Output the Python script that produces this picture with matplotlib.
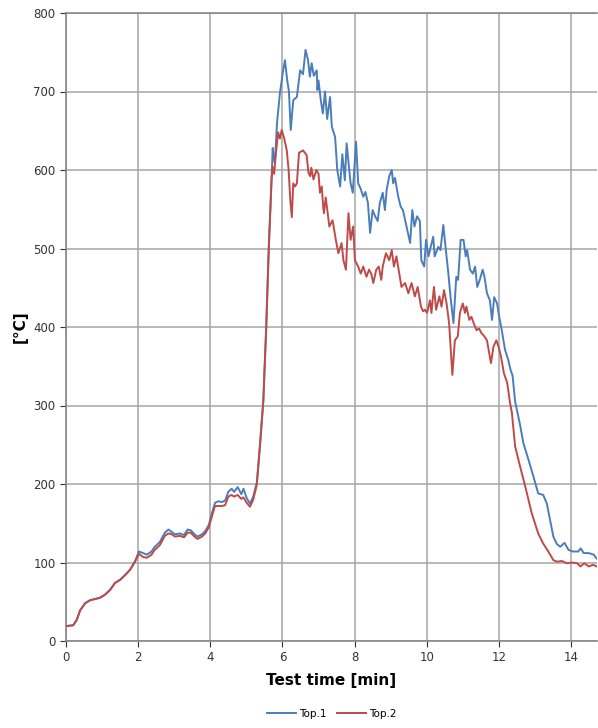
import matplotlib
matplotlib.use("Agg")
import matplotlib.pyplot as plt

# ---- data ----
t_early = [0.0, 0.2, 0.3, 0.39, 0.53, 0.67, 0.85, 0.94, 1.08, 1.22, 1.36, 1.5, 1.64, 1.78, 1.91,
           2.02, 2.14, 2.24, 2.37, 2.46, 2.6, 2.74, 2.84, 2.93, 3.02, 3.16, 3.27, 3.37, 3.46, 3.56,
           3.65, 3.77, 3.86, 3.96, 4.04, 4.13, 4.22, 4.32, 4.41, 4.5, 4.59, 4.66, 4.76, 4.86, 4.92,
           5.01, 5.1, 5.19, 5.29, 5.38, 5.47, 5.55, 5.62]
top1_early = [19, 20, 27, 39, 48, 52, 54, 55, 59, 65, 74, 78, 84, 91, 101,
              114, 112, 110, 114, 120, 126, 138, 142, 139, 136, 137, 135, 142, 141, 136,
              133, 136, 140, 148, 162, 176, 178, 177, 179, 190, 194, 190, 196, 187, 194,
              182, 175, 184, 202, 252, 307, 400, 500]
top2_early = [19, 20, 27, 39, 48, 52, 54, 55, 59, 65, 74, 78, 84, 91, 101,
              111, 107, 106, 110, 116, 122, 134, 137, 136, 133, 134, 132, 138, 138, 133,
              130, 133, 137, 145, 158, 172, 172, 172, 173, 184, 186, 184, 186, 181, 183,
              176, 171, 180, 199, 250, 305, 398, 498]

t1_late = [5.7, 5.73, 5.76, 5.79, 5.85, 5.93, 6.02, 6.07, 6.13, 6.18, 6.23, 6.3, 6.4, 6.49, 6.57,
           6.64, 6.71, 6.76, 6.81, 6.87, 6.95, 6.97, 7.0, 7.06, 7.12, 7.18, 7.24, 7.32, 7.37, 7.46,
           7.52, 7.6, 7.66, 7.73, 7.78, 7.83, 7.89, 7.95, 8.04, 8.1, 8.17, 8.24, 8.3, 8.37, 8.43,
           8.5, 8.57, 8.64, 8.7, 8.78, 8.84, 8.89, 8.96, 9.03, 9.07, 9.12, 9.21, 9.28, 9.34, 9.44,
           9.54, 9.6, 9.66, 9.73, 9.81, 9.85, 9.93, 9.98, 10.05, 10.11, 10.18, 10.22, 10.32, 10.38,
           10.46, 10.53, 10.6, 10.66, 10.74, 10.82, 10.87, 10.94, 11.02, 11.08, 11.12, 11.2, 11.28,
           11.34, 11.4, 11.47, 11.55, 11.6, 11.67, 11.75, 11.81, 11.87, 11.95, 12.01, 12.08, 12.17,
           12.26, 12.32, 12.38, 12.45, 12.58, 12.68, 12.82, 12.96, 13.09, 13.23, 13.33, 13.42,
           13.51, 13.6, 13.7, 13.82, 13.93, 14.06, 14.2, 14.27, 14.35, 14.49, 14.63, 14.71]
top1_late = [590, 628, 615, 609, 660, 698, 727, 740, 715, 700, 651, 689, 693, 727, 722,
             753, 740, 719, 736, 720, 727, 702, 714, 690, 672, 700, 665, 693, 655, 642,
             600, 579, 620, 587, 634, 610, 583, 571, 636, 583, 576, 566, 572, 558, 520,
             549, 541, 535, 558, 571, 549, 575, 592, 600, 583, 590, 566, 553, 549, 528,
             507, 549, 528, 541, 535, 485, 477, 511, 490, 502, 515, 490, 502, 498,
             530, 498, 468, 438, 405, 464, 460, 511, 511, 490, 498, 473, 468,
             477, 451, 460, 473, 464, 443, 434, 409, 438, 430, 413, 396, 371,
             358, 346, 338, 305, 277, 252, 231, 209, 188, 186, 175, 154,
             133, 124, 120, 125, 116, 114, 114, 118, 112, 112, 110, 105]

t2_late = [5.7, 5.73, 5.77, 5.82, 5.88, 5.93, 5.98, 6.05, 6.12, 6.17, 6.22, 6.26, 6.3, 6.35, 6.4,
           6.46, 6.57, 6.67, 6.72, 6.77, 6.8, 6.86, 6.94, 7.0, 7.04, 7.09, 7.13, 7.15, 7.2, 7.3,
           7.39, 7.48, 7.55, 7.64, 7.69, 7.76, 7.83, 7.89, 7.96, 8.01, 8.1, 8.17, 8.24, 8.33, 8.4,
           8.46, 8.52, 8.6, 8.67, 8.74, 8.78, 8.87, 8.96, 9.03, 9.09, 9.16, 9.24, 9.3, 9.4, 9.49,
           9.58, 9.67, 9.75, 9.84, 9.9, 9.95, 10.01, 10.09, 10.13, 10.2, 10.26, 10.35, 10.41, 10.48,
           10.55, 10.62, 10.71, 10.78, 10.86, 10.92, 11.0, 11.06, 11.1, 11.18, 11.24, 11.3, 11.38,
           11.45, 11.52, 11.6, 11.67, 11.73, 11.78, 11.85, 11.93, 11.99, 12.06, 12.14, 12.23, 12.31,
           12.36, 12.45, 12.59, 12.73, 12.91, 13.09, 13.23, 13.37, 13.51, 13.62, 13.74, 13.89,
           14.03, 14.17, 14.26, 14.37, 14.49, 14.61, 14.71]
top2_late = [590, 604, 595, 622, 648, 640, 651, 640, 625, 601, 560, 540, 583, 579, 583,
             622, 625, 619, 597, 592, 603, 588, 600, 595, 571, 579, 553, 545, 565, 528,
             536, 511, 494, 507, 485, 473, 545, 511, 528, 485, 477, 468, 477, 464, 473,
             468, 456, 473, 477, 460, 477, 494, 485, 498, 477, 490, 468, 451, 456, 443,
             456, 439, 451, 426, 420, 422, 418, 434, 418, 451, 422, 439, 426, 447,
             430, 405, 339, 383, 388, 418, 430, 418, 426, 409, 413, 405, 396,
             398, 392, 388, 383, 367, 354, 375, 383, 375, 362, 341, 329, 303,
             291, 248, 222, 197, 163, 137, 124, 114, 103, 101, 102, 99,
             100, 99, 95, 99, 95, 97, 95]

x_ticks = [0, 2, 4, 6, 8, 10, 12, 14]
y_ticks = [0, 100, 200, 300, 400, 500, 600, 700, 800]
series_names = ["Top.1", "Top.2"]
colors = ["#4a7ebb", "#be4b48"]

t1 = t_early + t1_late
y1 = top1_early + top1_late
t2 = t_early + t2_late
y2 = top2_early + top2_late

fig = plt.figure(figsize=(5.98, 7.28), dpi=100)
ax = fig.add_axes([66 / 598, 87 / 728, 531 / 598, 628 / 728])

ax.plot(t1, y1, color=colors[0], lw=1.4, label=series_names[0], zorder=3)
ax.plot(t2, y2, color=colors[1], lw=1.4, label=series_names[1], zorder=4)

ax.set_xlim(0, 14.72)
ax.set_ylim(0, 800)
ax.set_xticks(x_ticks)
ax.set_yticks(y_ticks)
ax.tick_params(labelsize=8.5, colors="#333333", length=4, width=0.8, direction="out")
ax.grid(True, color="#a6a6a6", lw=1.1, zorder=0)
ax.set_axisbelow(True)
for s in ["top", "right"]:
    ax.spines[s].set_visible(False)
for s in ["left", "bottom"]:
    ax.spines[s].set_color("#808080")
    ax.spines[s].set_linewidth(1.1)
ax.axhline(800, color="#808080", lw=1.1, zorder=1, clip_on=False)

ax.set_xlabel("Test time [min]", fontsize=11, fontweight="bold", labelpad=6)
ax.set_ylabel("[°C]", fontsize=11, fontweight="bold", labelpad=4)

fig.legend(loc="lower center", bbox_to_anchor=(0.555, 0.0), ncol=2, frameon=False,
           fontsize=7.5, handlelength=2.8, columnspacing=1.0, handletextpad=0.3)

fig.savefig("out.png", dpi=100, facecolor="white")
